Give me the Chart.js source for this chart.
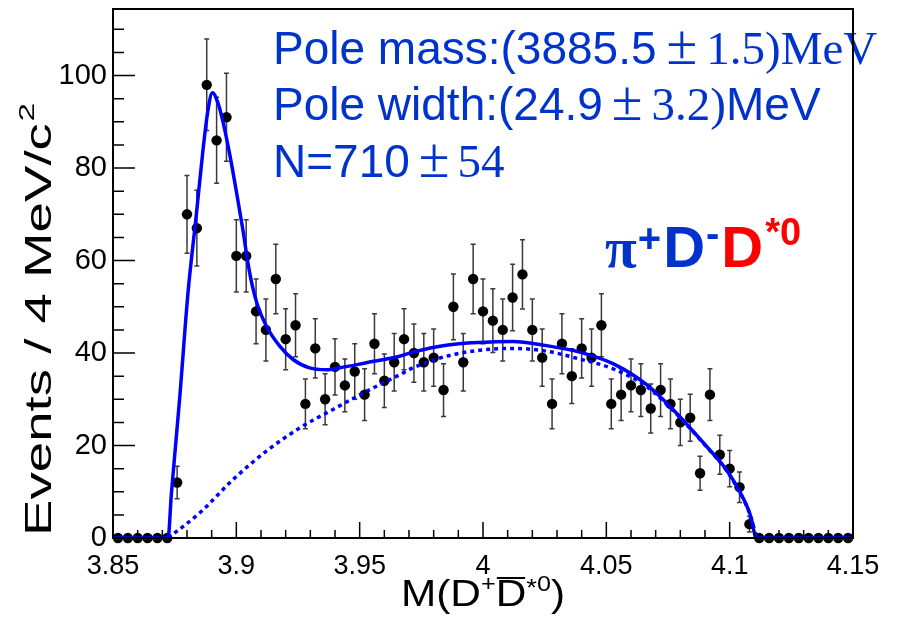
<!DOCTYPE html>
<html>
<head>
    <title>M(D+ D*0) fit</title>
    <script src="https://cdn.jsdelivr.net/npm/chart.js"></script>
    <style>
        body { margin: 0; background: #fff; }
        canvas { display: block; }
    </style>
</head>
<body>
    <canvas id="massChart" width="901" height="624"></canvas>

    <script>
    // axis ticks
    const xTicks = [3.85, 3.9, 3.95, 4, 4.05, 4.1, 4.15];
    const yTicks = [0, 20, 40, 60, 80, 100];

    // data points (bin centres, 4 MeV bins)
    const binCenters = [
        3.852, 3.856, 3.860, 3.864, 3.868, 3.872, 3.876, 3.880, 3.884, 3.888,
        3.892, 3.896, 3.900, 3.904, 3.908, 3.912, 3.916, 3.920, 3.924, 3.928,
        3.932, 3.936, 3.940, 3.944, 3.948, 3.952, 3.956, 3.960, 3.964, 3.968,
        3.972, 3.976, 3.980, 3.984, 3.988, 3.992, 3.996, 4.000, 4.004, 4.008,
        4.012, 4.016, 4.020, 4.024, 4.028, 4.032, 4.036, 4.040, 4.044, 4.048,
        4.052, 4.056, 4.060, 4.064, 4.068, 4.072, 4.076, 4.080, 4.084, 4.088,
        4.092, 4.096, 4.100, 4.104, 4.108, 4.112, 4.116, 4.120, 4.124, 4.128,
        4.132, 4.136, 4.140, 4.144, 4.148
    ];
    const counts = [
        0, 0, 0, 0, 0, 0, 12, 70, 67, 98,
        86, 91, 61, 61, 49, 45, 56, 43, 46, 29,
        41, 30, 37, 33, 36, 31, 42, 34, 38, 43,
        40, 38, 39, 32, 50, 38, 56, 49, 47, 45,
        52, 57, 45, 39, 29, 42, 35, 41, 39, 46,
        29, 31, 33, 32, 28, 32, 29, 25, 26, 14,
        31, 18, 15, 11, 3, 0, 0, 0, 0, 0,
        0, 0, 0, 0, 0
    ];
    const countErrors = [
        0, 0, 0, 0, 0, 0, 3.5, 8.4, 8.2, 9.9,
        9.3, 9.5, 7.8, 7.8, 7.0, 6.7, 7.5, 6.6, 6.8, 5.4,
        6.4, 5.5, 6.1, 5.7, 6.0, 5.6, 6.5, 5.8, 6.2, 6.6,
        6.3, 6.2, 6.2, 5.7, 7.1, 6.2, 7.5, 7.0, 6.9, 6.7,
        7.2, 7.5, 6.7, 6.2, 5.4, 6.5, 5.9, 6.4, 6.2, 6.8,
        5.4, 5.6, 5.7, 5.7, 5.3, 5.7, 5.4, 5.0, 5.1, 3.7,
        5.6, 4.2, 3.9, 3.3, 1.7, 0, 0, 0, 0, 0,
        0, 0, 0, 0, 0
    ];

    // total fit (solid)
    const fitX = [3.85, 3.8723, 3.8737, 3.8770, 3.8804, 3.8838, 3.8865, 3.8885, 3.8903, 3.8926,
        3.8946, 3.8973, 3.9000, 3.9027, 3.9047, 3.9065, 3.9085, 3.9122, 3.9176, 3.9230,
        3.9297, 3.9365, 3.9419, 3.9527, 3.9662, 3.9716, 3.9851, 3.9986, 4.0121, 4.0257,
        4.0392, 4.0527, 4.0662, 4.0770, 4.0905, 4.0986, 4.1040, 4.1081, 4.1110, 4.15];
    const fitY = [0, 0, 9.8, 30, 53, 70, 84, 92.5, 96.3, 94,
        90, 83, 75, 66.5, 59.5, 54.5, 50.5, 45.8, 41.5, 38.6,
        36.8, 36.4, 36.8, 37.9, 39.3, 40.2, 41.7, 42.3, 42.5, 41.6,
        40.2, 37.7, 33.2, 27.8, 19.9, 14.8, 10.1, 5.4, 0, 0];

    // background (dotted)
    const bkgX = [3.8723, 3.8851, 3.8986, 3.9122, 3.9257, 3.9392, 3.9527, 3.9662, 3.9716, 3.9851,
        3.9986, 4.0121, 4.0257, 4.0392, 4.0527, 4.0662, 4.0770, 4.0905, 4.0986, 4.1040, 4.1081, 4.1110];
    const bkgY = [0, 5.4, 12.6, 18.8, 23.8, 27.8, 31.7, 35.3, 36.8, 39.3,
        40.6, 41.0, 40.4, 38.7, 36.6, 32.8, 27.6, 19.8, 14.7, 10.0, 5.3, 0];

    const SANS = "'Liberation Sans', Arial, sans-serif";
    const SERIF = "'Liberation Serif', 'Times New Roman', serif";
    const TEXT_BLUE = '#0033cc';

    // draws pieces of text one after another
    function drawPieces(ctx, x, y, pieces) {
        pieces.forEach(p => {
            ctx.font = p.font;
            ctx.fillStyle = p.color || TEXT_BLUE;
            x += p.padL || 0;
            ctx.fillText(p.t, x, y + (p.dy || 0));
            const w = ctx.measureText(p.t).width;
            if (p.over) {
                ctx.fillRect(x + 1, y + p.over, w - 2, 2);
            }
            x += w + (p.padR || 0);
        });
        return x;
    }

    function piecesWidth(ctx, pieces) {
        let w = 0;
        pieces.forEach(p => {
            ctx.font = p.font;
            w += ctx.measureText(p.t).width + (p.padL || 0) + (p.padR || 0);
        });
        return w;
    }

    const decor = {
        id: 'decor',
        beforeDatasetsDraw(chart) {
            const ctx = chart.ctx, xs = chart.scales.x, ys = chart.scales.y;
            ctx.save();
            ctx.strokeStyle = '#3a3a3a';
            ctx.lineWidth = 1.5;
            binCenters.forEach((m, i) => {
                const e = countErrors[i];
                if (!e) return;
                const px = xs.getPixelForValue(m);
                const y1 = ys.getPixelForValue(counts[i] - e);
                const y2 = ys.getPixelForValue(counts[i] + e);
                ctx.beginPath();
                ctx.moveTo(px, y1); ctx.lineTo(px, y2);
                ctx.moveTo(px - 2.5, y1); ctx.lineTo(px + 2.5, y1);
                ctx.moveTo(px - 2.5, y2); ctx.lineTo(px + 2.5, y2);
                ctx.stroke();
            });
            ctx.restore();
        },
        afterDraw(chart) {
            const ctx = chart.ctx, xs = chart.scales.x, ys = chart.scales.y;
            const a = chart.chartArea;
            ctx.save();
            ctx.textBaseline = 'alphabetic';
            ctx.textAlign = 'left';

            // fit results
            const big = '46px ' + SANS, bigSerif = '47px ' + SERIF, pm = '56px ' + SERIF;
            drawPieces(ctx, 273, 64, [
                { t: 'Pole mass:(3885.5', font: big },
                { t: '\u00b1', font: pm, padL: 10, padR: 9 },
                { t: '1.5)MeV', font: bigSerif }
            ]);
            drawPieces(ctx, 273, 120, [
                { t: 'Pole width:(24.9', font: big },
                { t: '\u00b1', font: pm, padL: 9, padR: 9 },
                { t: '3.2)', font: bigSerif },
                { t: 'MeV', font: big }
            ]);
            drawPieces(ctx, 273, 177, [
                { t: 'N=710', font: big },
                { t: '\u00b1', font: pm, padL: 9, padR: 8 },
                { t: '54', font: bigSerif }
            ]);

            // channel label
            drawPieces(ctx, 605, 267, [
                { t: '\u03c0', font: 'bold 58px ' + SERIF },
                { t: '+', font: 'bold 40px ' + SANS, dy: -15, padL: 1 },
                { t: 'D', font: 'bold 58px ' + SANS, padL: 2 },
                { t: '-', font: 'bold 40px ' + SANS, dy: -20, padL: 1 },
                { t: 'D', font: 'bold 58px ' + SANS, color: '#ff0000', padL: 2 },
                { t: '*0', font: 'bold 38px ' + SANS, color: '#ff0000', dy: -22, padL: 2 }
            ]);

            // frame
            ctx.strokeStyle = '#000';
            ctx.lineWidth = 2;
            ctx.strokeRect(a.left, a.top, a.right - a.left, a.bottom - a.top);

            // inward ticks
            ctx.lineWidth = 1.5;
            ctx.beginPath();
            for (let k = 0; k <= 30; k++) {
                const v = 3.85 + k * 0.01;
                const px = xs.getPixelForValue(v);
                const len = (k % 5 === 0) ? 16 : 8;
                ctx.moveTo(px, a.bottom); ctx.lineTo(px, a.bottom - len);
            }
            for (let k = 0; k <= 22; k++) {
                const v = k * 5;
                const py = ys.getPixelForValue(v);
                const len = (k % 4 === 0) ? 22 : 11;
                ctx.moveTo(a.left, py); ctx.lineTo(a.left + len, py);
            }
            ctx.stroke();

            // x title
            const xt = [
                { t: 'M(D', font: '37px ' + SANS, color: '#000' },
                { t: '+', font: '22px ' + SANS, color: '#000', dy: -15 },
                { t: 'D', font: '37px ' + SANS, color: '#000', over: -29 },
                { t: '*', font: '24px ' + SANS, color: '#000', dy: -10 },
                { t: '0', font: '22px ' + SANS, color: '#000', dy: -15 },
                { t: ')', font: '37px ' + SANS, color: '#000' }
            ];
            const xw = piecesWidth(ctx, xt);
            ctx.save();
            ctx.translate(401, 606);
            ctx.scale(164 / xw, 1);
            drawPieces(ctx, 0, 0, xt);
            ctx.restore();

            // y title
            const yt = [
                { t: 'Events / 4 MeV/c', font: '36px ' + SANS, color: '#000' },
                { t: '2', font: '22px ' + SANS, color: '#000', dy: -17, padL: 1 }
            ];
            const yw = piecesWidth(ctx, yt);
            ctx.save();
            ctx.translate(51, 536);
            ctx.rotate(-Math.PI / 2);
            ctx.scale((536 - 103) / yw, 1);
            drawPieces(ctx, 0, 0, yt);
            ctx.restore();

            ctx.restore();
        }
    };

    function createChart() {
        const canvas = document.getElementById('massChart');
        new Chart(canvas, {
            type: 'scatter',
            data: {
                datasets: [
                    {
                        label: 'fit',
                        data: fitX.map((x, i) => ({ x: x, y: fitY[i] })),
                        showLine: true,
                        borderColor: '#0000ff',
                        borderWidth: 3.5,
                        pointRadius: 0,
                        cubicInterpolationMode: 'monotone',
                        clip: 3,
                        order: 0
                    },
                    {
                        label: 'background',
                        data: bkgX.map((x, i) => ({ x: x, y: bkgY[i] })),
                        showLine: true,
                        borderColor: '#0000ff',
                        borderWidth: 3.5,
                        borderDash: [4, 4],
                        pointRadius: 0,
                        cubicInterpolationMode: 'monotone',
                        order: 1
                    },
                    {
                        label: 'data',
                        data: binCenters.map((x, i) => ({ x: x, y: counts[i] })),
                        pointRadius: 5.2,
                        backgroundColor: '#000',
                        borderWidth: 0,
                        clip: false,
                        order: 2
                    }
                ]
            },
            options: {
                responsive: false,
                animation: false,
                events: [],
                layout: { padding: { top: 9, right: 48, left: 0, bottom: 0 } },
                plugins: { legend: { display: false }, tooltip: { enabled: false } },
                scales: {
                    x: {
                        type: 'linear',
                        min: 3.85,
                        max: 4.15,
                        grid: { display: false, drawTicks: false },
                        border: { display: false },
                        afterBuildTicks: s => { s.ticks = xTicks.map(v => ({ value: v })); },
                        afterFit: s => { s.height = 86; s.paddingLeft = 0; s.paddingRight = 0; },
                        ticks: {
                            color: '#000',
                            padding: 12,
                            maxRotation: 0,
                            autoSkip: false,
                            font: { family: SANS, size: 27 },
                            callback: v => String(+v.toFixed(2))
                        }
                    },
                    y: {
                        type: 'linear',
                        min: 0,
                        max: 114.4,
                        grid: { display: false, drawTicks: false },
                        border: { display: false },
                        afterBuildTicks: s => { s.ticks = yTicks.map(v => ({ value: v })); },
                        afterFit: s => { s.width = 113; s.paddingTop = 0; s.paddingBottom = 0; },
                        ticks: {
                            color: '#000',
                            padding: 6,
                            font: { family: SANS, size: 29 },
                            callback: v => String(v)
                        }
                    }
                }
            },
            plugins: [decor]
        });
    }

    window.onload = () => {
        createChart();
    };
    </script>
</body>
</html>
